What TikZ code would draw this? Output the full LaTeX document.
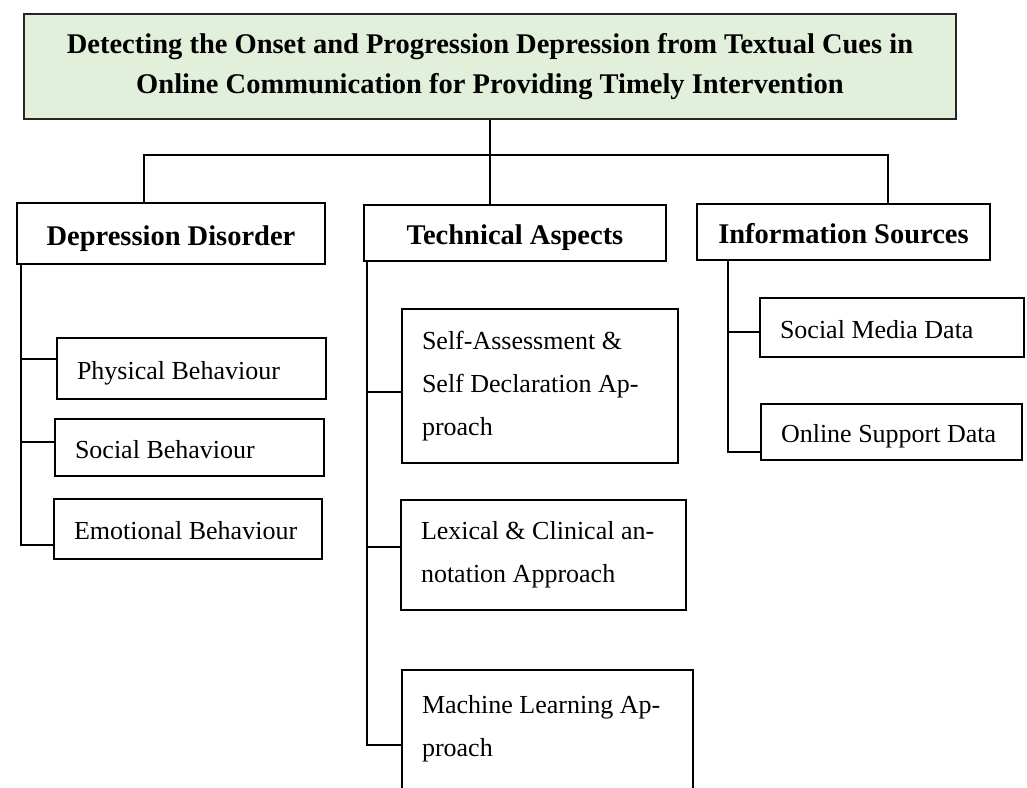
\documentclass[tikz,border=0pt]{standalone}
\usepackage{fontspec}
\setmainfont{Liberation Serif}
\usepackage{tikz}
\definecolor{topgreen}{HTML}{E2EFDA}
\tikzset{
  topbox/.style={rectangle, draw=black!85, fill=topgreen, line width=2pt, inner sep=0pt, minimum width=932pt, minimum height=105pt, align=center, font=\bfseries\fontsize{28.5}{40}\selectfont},
  headbox/.style={rectangle, draw=black, line width=2pt, inner sep=0pt, text height=23pt, text depth=0pt, align=center, font=\bfseries\fontsize{28.5}{30}\selectfont},
  leafbox/.style={rectangle, draw=black, line width=2pt, inner xsep=20pt, inner ysep=0pt, align=flush left, font=\fontsize{26}{43}\selectfont},
  leafone/.style={leafbox, text height=21pt, text depth=0pt},
  conn/.style={line width=2pt}
}

\begin{document}
\begin{tikzpicture}[x=1pt, y=-1pt]
    \useasboundingbox (0,0) rectangle (1027,787);
    \clip (0,0) rectangle (1027,787);

    % root
    \node (title) [topbox] at (490,66.5) {Detecting the Onset and Progression Depression from Textual Cues in\\Online Communication for Providing Timely Intervention};

    % three branches
    \node (disorder) [headbox, minimum width=308pt, minimum height=61pt] at (171,233.5) {Depression Disorder};
    \node (technical) [headbox, minimum width=302pt, minimum height=56pt] at (515,233) {Technical Aspects};
    \node (sources) [headbox, minimum width=293pt, minimum height=56pt] at (843.5,232) {Information Sources};

    % leaves under Depression Disorder
    \node (physical) [leafone, text width=229pt, minimum height=61pt] at (191.5,368.5) {Physical Behaviour};
    \node (social) [leafone, text width=229pt, minimum height=57pt] at (189.5,447.5) {Social Behaviour};
    \node (emotional) [leafone, text width=228pt, minimum height=60pt] at (188,529) {Emotional Behaviour};

    % leaves under Technical Aspects
    \node (selfdecl) [leafbox, text width=236pt, minimum height=154pt] at (540,386) {Self-Assessment \&\\Self Declaration Ap-\\proach};
    \node (lexical) [leafbox, text width=245pt, minimum height=110pt] at (543.5,555) {Lexical \& Clinical an-\\notation Approach};
    \node (learning) [leafbox, text width=251pt, minimum height=154pt] at (547.5,747) {Machine Learning Ap-\\proach\\\mbox{}};

    % leaves under Information Sources
    \node (socmedia) [leafone, text width=224pt, minimum height=59pt] at (892,327.5) {Social Media Data};
    \node (support) [leafone, text width=221pt, minimum height=56pt] at (891.5,432) {Online Support Data};

    % root to the three branches
    \coordinate (bus) at (490,155);
    \draw[conn] (title.south) -- (title.south |- technical.north);
    \draw[conn] ([xshift=-27pt]disorder.north) |- (bus) -| ([xshift=44.5pt]sources.north);

    % spines with side branches
    \coordinate (spineA) at ([xshift=5pt]disorder.south west);
    \draw[conn] (spineA) |- ([yshift=-16pt]emotional.west);
    \draw[conn] (spineA |- 0,359) -- ([yshift=9.5pt]physical.west);
    \draw[conn] (spineA |- 0,442) -- ([yshift=5.5pt]social.west);

    \coordinate (spineB) at ([xshift=4pt]technical.south west);
    \draw[conn] (spineB) |- ([yshift=2pt]learning.west);
    \draw[conn] (spineB |- 0,392) -- ([yshift=-6pt]selfdecl.west);
    \draw[conn] (spineB |- 0,547) -- ([yshift=8pt]lexical.west);

    \coordinate (spineC) at ([xshift=32pt]sources.south west);
    \draw[conn] (spineC) |- ([yshift=-20pt]support.west);
    \draw[conn] (spineC |- 0,332) -- ([yshift=-4.5pt]socmedia.west);
\end{tikzpicture}
\end{document}
